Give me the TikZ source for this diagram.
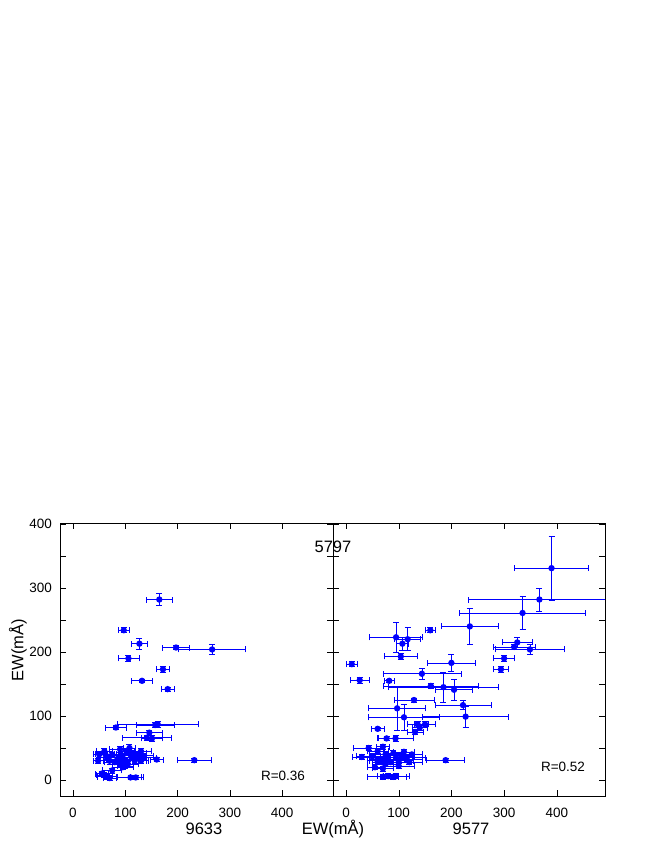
\documentclass[tikz,border=0pt]{standalone}
\usepackage{fontspec}
\setmainfont{Liberation Sans}
\begin{document}
\begin{tikzpicture}[x=1pt,y=-1pt,
  eb/.style={blue,line width=0.7pt},
  lab/.style={font=\fontsize{13.5}{13.5}\selectfont,inner sep=0pt},
  big/.style={font=\fontsize{16.5}{16.5}\selectfont,inner sep=0pt}]
\useasboundingbox (0,0) rectangle (654,846);
\newcommand\dpt[4]{%
  \draw[eb] (#1-#3,#2) -- (#1+#3,#2) (#1,#2-#4) -- (#1,#2+#4);
  \draw[eb] (#1-#3,#2) ++(0,-3pt) -- ++(0,6pt);
  \draw[eb] (#1+#3,#2) ++(0,-3pt) -- ++(0,6pt);
  \draw[eb] (#1,#2-#4) ++(-3pt,0) -- ++(6pt,0);
  \draw[eb] (#1,#2+#4) ++(-3pt,0) -- ++(6pt,0);
  \fill[blue] (#1,#2) circle (3.2pt);}
% frames
\draw[line width=0.8pt] (60,523) rectangle (333,796);
\draw[line width=0.8pt] (333,523) rectangle (605,796);
% y ticks
\foreach \v in {0,50,...,400}{
  \pgfmathsetmacro\yy{780-0.64*\v}
  \draw (60,\yy) -- (66,\yy);
  \draw (327,\yy) -- (339,\yy);
  \draw (599,\yy) -- (605,\yy);}
\foreach \v in {0,100,200,300,400}{
  \pgfmathsetmacro\yy{780-0.64*\v}
  \node[lab,anchor=east] at (52,\yy) {\v};
  \pgfmathsetmacro\xa{73+0.523*\v}
  \pgfmathsetmacro\xb{346+0.527*\v}
  \draw (\xa,796) -- (\xa,790) (\xa,523) -- (\xa,529);
  \draw (\xb,796) -- (\xb,790) (\xb,523) -- (\xb,529);
  \node[lab] at (\xa,813) {\v};
  \node[lab] at (\xb,813) {\v};}
\node[big,rotate=90] at (18,650) {EW(mÅ)};
\node[big] at (333,829) {EW(mÅ)};
\node[big] at (204,829) {9633};
\node[big] at (471,829) {9577};
\node[big] at (333,547) {5797};
\node[lab] at (283,776) {R=0.36};
\node[lab] at (563,767) {R=0.52};
% left panel
\begin{scope}[shift={(73,780)},x=0.523pt,y=0.64pt]
\foreach \a/\b/\c/\d in {165/282/25/9,97/234/10/4,127/213/15/9,106/190/20/4,197/207/26/3,266/204/64/8,172/173/13/5,132/155/20/3,181/142/12/3,82/82/20/3,157/86/36/4,162/87/78/4,146/74/25/4,141/66/47/4,151/65/20/4,232/31/33/3,160/32/13/3,
60/45/15/4,62/40/20/4,65/35/18/5,70/30/25/5,75/40/14/4,80/28/20/4,85/33/22/5,90/25/15/4,95/35/25/5,100/30/18/4,102/45/15/5,105/25/20/4,108/50/12/5,110/40/30/5,112/35/20/4,115/42/25/5,118/30/22/4,125/38/28/5,130/45/20/4,135/35/25/4,55/10/12/4,60/8/15/4,65/5/18/4,70/3/12/3,75/15/18/4,95/20/20/4,100/22/15/4,110/4/25/3,120/4/10/3,130/30/15/4,50/40/12/4,48/30/10/4,90/48/20/4}
  {\dpt{\a}{\b}{\c}{\d}}
\end{scope}
% right panel
\begin{scope}[shift={(346,780)},x=0.527pt,y=0.64pt]
\clip (-25,-25) rectangle (491,400);
\foreach \a/\b/\c/\d in {390/331/70/50,367/282/135/18,335/261/120/26,235/240/55/28,160/234/10/4,95/223/50/23,117/220/25/18,107/213/12/10,104/193/31/5,11/181/10/4,200/183/45/13,144/166/74/8,26/156/18/5,82/155/10/3,294/173/15/5,300/190/20/4,325/215/29/8,319/208/40/4,349/204/65/8,161/147/90/4,185/145/105/23,205/141/35/16,129/125/38/3,222/117/53/7,97/112/54/35,110/98/68/20,227/99/82/16,136/87/20/5,150/87/20/4,131/75/15/4,140/82/15/4,60/80/12/3,94/65/34/4,77/65/15/3,189/31/36/3,
43/50/30/4,30/36/18/4,50/37/30/4,60/45/20/4,65/30/25/4,70/52/12/4,75/40/30/4,80/35/25/4,85/28/35/4,90/42/20/4,95/35/30/4,100/30/28/4,105/38/25/4,110/44/20/4,115/33/30/4,120/28/25/4,70/18/20/4,70/5/30/4,80/6/20/4,90/5/25/4,95/6/25/4,55/20/15/4,60/30/15/4,100/22/30/4,110/35/40/4,125/40/20/4,75/25/20/4}
  {\dpt{\a}{\b}{\c}{\d}}
\end{scope}
\end{tikzpicture}
\end{document}
